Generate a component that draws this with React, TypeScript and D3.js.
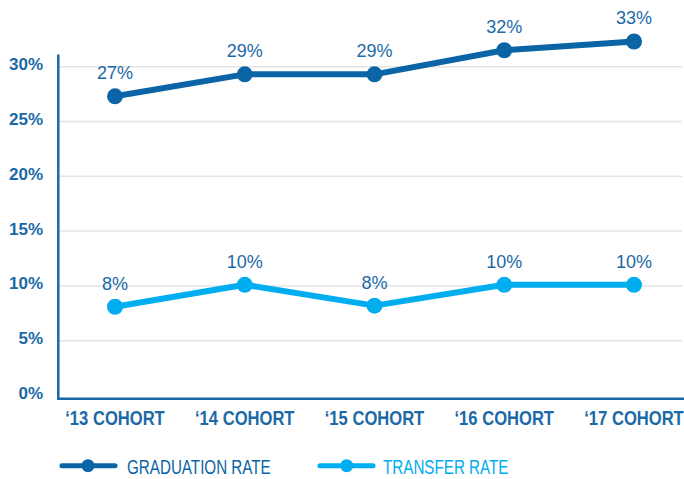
import React from "react";
import * as d3 from "d3";

const categories = ["‘13 COHORT", "‘14 COHORT", "‘15 COHORT", "‘16 COHORT", "‘17 COHORT"];
const graduationRate = [27.3, 29.3, 29.3, 31.5, 32.3];
const graduationLabels = ["27%", "29%", "29%", "32%", "33%"];
const transferRate = [8.1, 10.1, 8.2, 10.1, 10.1];
const transferLabels = ["8%", "10%", "8%", "10%", "10%"];
const yTicks = [0, 5, 10, 15, 20, 25, 30];

const W = 684;
const H = 479;
const DARK = "#0b64a5";
const LIGHT = "#00adef";
const TEXT = "#1b69a7";
const SANS = "'Liberation Sans', Arial, sans-serif";

function NarrowText(props: {
  x: number;
  y: number;
  anchor?: "start" | "middle" | "end";
  size: number;
  scale: number;
  weight?: number;
  fill: string;
  children: string;
}) {
  return (
    <text
      transform={`translate(${props.x},${props.y}) scale(${props.scale},1)`}
      textAnchor={props.anchor || "start"}
      fontFamily={SANS}
      fontWeight={props.weight || 400}
      fontSize={props.size}
      fill={props.fill}
    >
      {props.children}
    </text>
  );
}

export default function App() {
  const x = d3.scalePoint<string>().domain(categories).range([115, 634]);
  const y = d3.scaleLinear().domain([0, 30]).range([395.5, 66.7]);
  const line = d3
    .line<number>()
    .x((_, i) => x(categories[i]) as number)
    .y((d) => y(d));

  const series = [
    { values: graduationRate, labels: graduationLabels, color: DARK },
    { values: transferRate, labels: transferLabels, color: LIGHT },
  ];

  return (
    <svg width={W} height={H} style={{ position: "absolute", left: 0, top: 0, background: "#fff" }}>
      {yTicks.slice(1).map((t) => (
        <line key={t} x1={58} x2={682} y1={y(t)} y2={y(t)} stroke="#e4e4e4" strokeWidth={1.5} />
      ))}
      <line x1={58.3} x2={58.3} y1={54.5} y2={400} stroke="#1668a8" strokeWidth={2.5} />
      <line x1={57} x2={684} y1={398.8} y2={398.8} stroke="#1668a8" strokeWidth={2.5} />
      {yTicks.map((t) => (
        <text
          key={t}
          x={43}
          y={y(t) + 3.5}
          textAnchor="end"
          fontFamily={SANS}
          fontWeight={700}
          fontSize={17}
          fill={TEXT}
        >
          {t}%
        </text>
      ))}
      {categories.map((c) => (
        <NarrowText key={c} x={x(c) as number} y={425} anchor="middle" size={21} scale={0.79} weight={700} fill={TEXT}>
          {c}
        </NarrowText>
      ))}
      {series.map((s, si) => (
        <g key={si}>
          <path d={line(s.values) as string} fill="none" stroke={s.color} strokeWidth={6} strokeLinejoin="round" />
          {s.values.map((v, i) => (
            <circle key={i} cx={x(categories[i])} cy={y(v)} r={8} fill={s.color} />
          ))}
          {s.values.map((v, i) => (
            <text
              key={"l" + i}
              x={x(categories[i])}
              y={y(v) - 17}
              textAnchor="middle"
              fontFamily={SANS}
              fontSize={18}
              fill={TEXT}
            >
              {s.labels[i]}
            </text>
          ))}
        </g>
      ))}
      <g>
        <line x1={62} x2={115} y1={465.7} y2={465.7} stroke={DARK} strokeWidth={5} strokeLinecap="round" />
        <circle cx={88} cy={465.7} r={6.5} fill={DARK} />
        <NarrowText x={127} y={473.8} size={20} scale={0.76} fill={DARK}>
          GRADUATION RATE
        </NarrowText>
        <line x1={320} x2={373} y1={465.7} y2={465.7} stroke={LIGHT} strokeWidth={5} strokeLinecap="round" />
        <circle cx={346.7} cy={465.7} r={6.5} fill={LIGHT} />
        <NarrowText x={383} y={473.8} size={20} scale={0.76} fill={LIGHT}>
          TRANSFER RATE
        </NarrowText>
      </g>
    </svg>
  );
}
